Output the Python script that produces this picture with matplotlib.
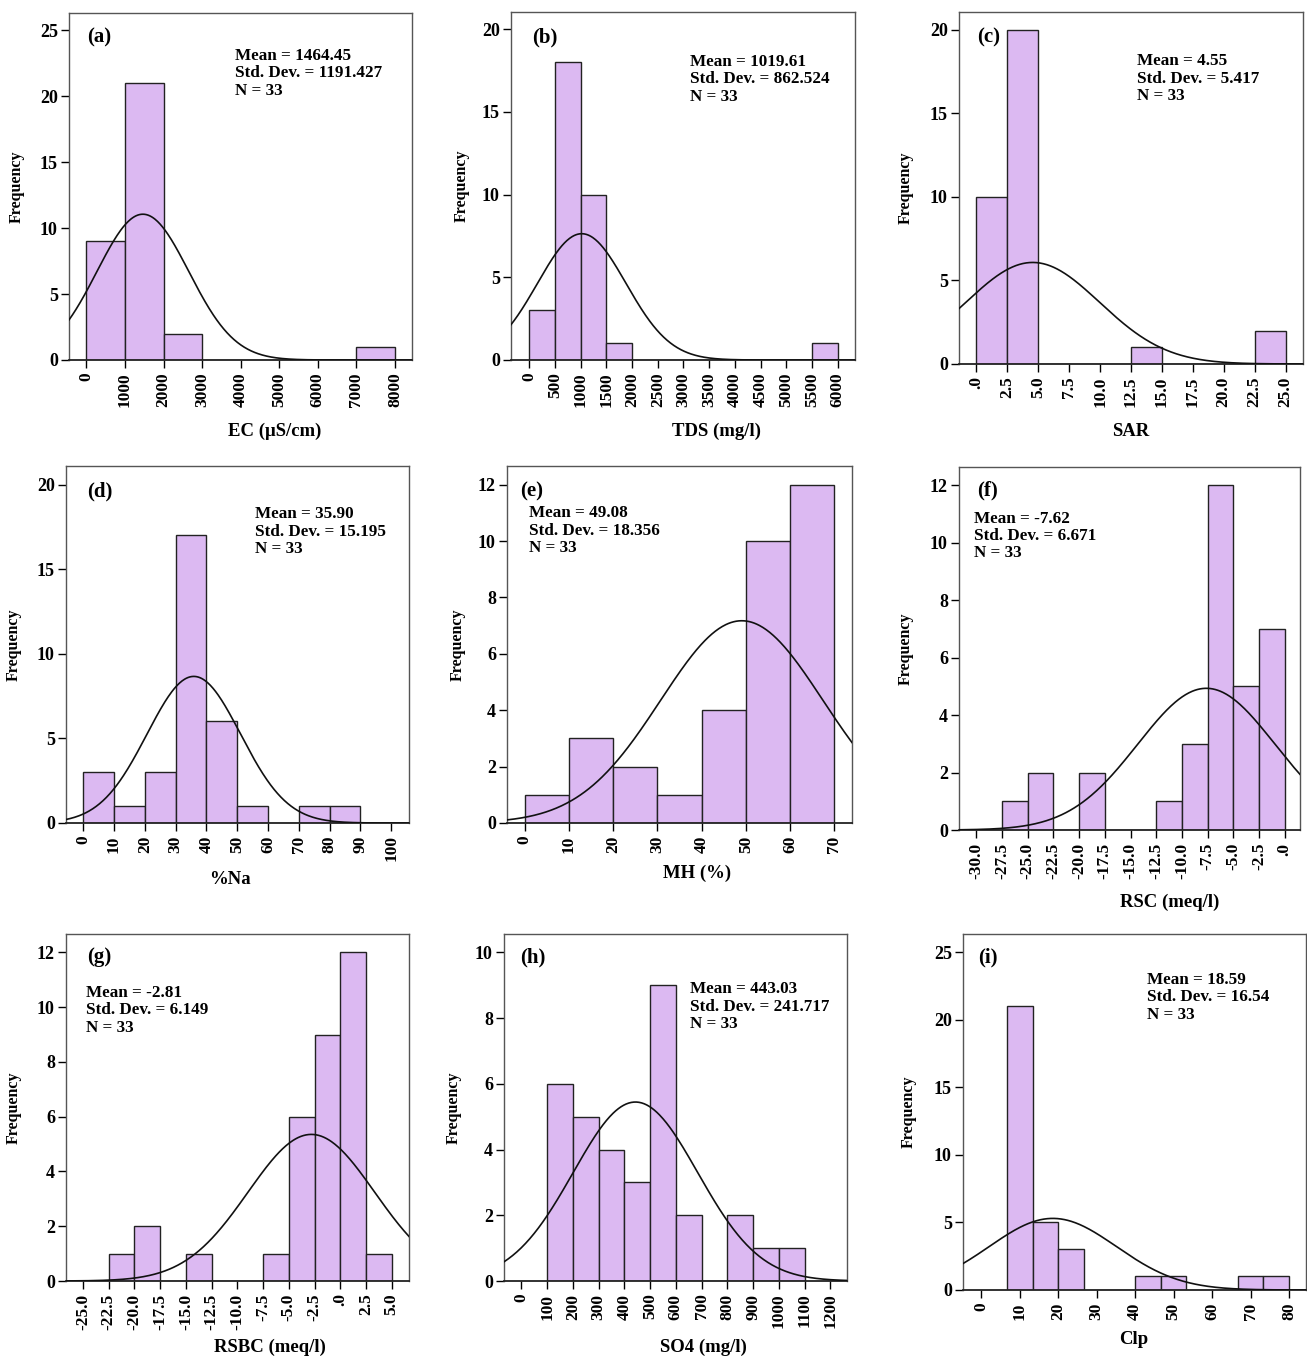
import numpy as np
import matplotlib.pyplot as plt

plt.rcParams['font.family'] = ['Liberation Serif', 'DejaVu Serif']
plt.rcParams['font.weight'] = 'bold'

# --- data (bin edges, counts, summary stats) ---
ec_edges = [0, 1000, 2000, 3000, 4000, 5000, 6000, 7000, 8000]
ec_counts = [9, 21, 2, 0, 0, 0, 0, 1]
ec_ticks = [0, 1000, 2000, 3000, 4000, 5000, 6000, 7000, 8000]

tds_edges = [0, 500, 1000, 1500, 2000, 2500, 3000, 3500, 4000, 4500, 5000, 5500, 6000]
tds_counts = [3, 18, 10, 1, 0, 0, 0, 0, 0, 0, 0, 1]
tds_ticks = [0, 500, 1000, 1500, 2000, 2500, 3000, 3500, 4000, 4500, 5000, 5500, 6000]

sar_edges = [0, 2.5, 5, 7.5, 10, 12.5, 15, 17.5, 20, 22.5, 25]
sar_counts = [10, 20, 0, 0, 0, 1, 0, 0, 0, 2]
sar_ticks = [0, 2.5, 5, 7.5, 10, 12.5, 15, 17.5, 20, 22.5, 25]
sar_ticklabels = ['.0', '2.5', '5.0', '7.5', '10.0', '12.5', '15.0', '17.5', '20.0', '22.5', '25.0']

na_edges = [0, 10, 20, 30, 40, 50, 60, 70, 80, 90]
na_counts = [3, 1, 3, 17, 6, 1, 0, 1, 1]
na_ticks = [0, 10, 20, 30, 40, 50, 60, 70, 80, 90, 100]

mh_edges = [0, 10, 20, 30, 40, 50, 60, 70]
mh_counts = [1, 3, 2, 1, 4, 10, 12]
mh_ticks = [0, 10, 20, 30, 40, 50, 60, 70]

rsc_edges = [-27.5, -25, -22.5, -20, -17.5, -15, -12.5, -10, -7.5, -5, -2.5, 0]
rsc_counts = [1, 2, 0, 2, 0, 0, 1, 3, 12, 5, 7]
rsc_ticks = [-30, -27.5, -25, -22.5, -20, -17.5, -15, -12.5, -10, -7.5, -5, -2.5, 0]
rsc_ticklabels = ['-30.0', '-27.5', '-25.0', '-22.5', '-20.0', '-17.5', '-15.0',
                  '-12.5', '-10.0', '-7.5', '-5.0', '-2.5', '.0']

rsbc_edges = [-22.5, -20, -17.5, -15, -12.5, -10, -7.5, -5, -2.5, 0, 2.5, 5]
rsbc_counts = [1, 2, 0, 1, 0, 0, 1, 6, 9, 12, 1]
rsbc_ticks = [-25, -22.5, -20, -17.5, -15, -12.5, -10, -7.5, -5, -2.5, 0, 2.5, 5]
rsbc_ticklabels = ['-25.0', '-22.5', '-20.0', '-17.5', '-15.0', '-12.5', '-10.0',
                   '-7.5', '-5.0', '-2.5', '.0', '2.5', '5.0']

so4_edges = [100, 200, 300, 400, 500, 600, 700, 800, 900, 1000, 1100]
so4_counts = [6, 5, 4, 3, 9, 2, 0, 2, 1, 1]
so4_ticks = [0, 100, 200, 300, 400, 500, 600, 700, 800, 900, 1000, 1100, 1200]

clp_edges = [6.67, 13.33, 20, 26.67, 33.33, 40, 46.67, 53.33, 60, 66.67, 73.33, 80]
clp_counts = [21, 5, 3, 0, 0, 1, 1, 0, 0, 1, 1]
clp_ticks = [0, 10, 20, 30, 40, 50, 60, 70, 80]

means = [1464.45, 1019.61, 4.55, 35.90, 49.08, -7.62, -2.81, 443.03, 18.59]
sds = [1191.427, 862.524, 5.417, 15.195, 18.356, 6.671, 6.149, 241.717, 16.54]
n_obs = 33

tags = ['(a)', '(b)', '(c)', '(d)', '(e)', '(f)', '(g)', '(h)', '(i)']
xlabels = ['EC (μS/cm)', 'TDS (mg/l)', 'SAR', '%Na', 'MH (%)', 'RSC (meq/l)',
           'RSBC (meq/l)', 'SO4 (mg/l)', 'Clp']

W, H = 1307, 1358
fig = plt.figure(figsize=(W / 100, H / 100), dpi=100)

# panel layout in pixels: box (l, t, r, b), xlim, ylim top, yticks, tag pos, stats pos, xlabel (x, y), ylabel x
panels = [
    dict(box=(69, 13, 412, 360), edges=ec_edges, counts=ec_counts, ticks=ec_ticks, tl=None,
         xlim=(-450, 8440), ytop=26.3, ystep=5, tag=(0.052, 0.928), st=(0.484, 0.90), xl=(275, 432), yl=18),
    dict(box=(511, 12, 855, 360), edges=tds_edges, counts=tds_counts, ticks=tds_ticks, tl=None,
         xlim=(-357, 6339), ytop=21.03, ystep=5, tag=(0.06, 0.928), st=(0.52, 0.88), xl=(716, 432), yl=463),
    dict(box=(959, 12, 1303, 364), edges=sar_edges, counts=sar_counts, ticks=sar_ticks, tl=sar_ticklabels,
         xlim=(-1.41, 26.41), ytop=21.06, ystep=5, tag=(0.052, 0.927), st=(0.517, 0.883), xl=(1131, 432), yl=907),
    dict(box=(66, 466, 409, 823), edges=na_edges, counts=na_counts, ticks=na_ticks, tl=None,
         xlim=(-5.6, 105.8), ytop=21.1, ystep=5, tag=(0.062, 0.93), st=(0.55, 0.887), xl=(230, 880), yl=15),
    dict(box=(507, 466, 852, 823), edges=mh_edges, counts=mh_counts, ticks=mh_ticks, tl=None,
         xlim=(-4.0, 74.0), ytop=12.66, ystep=2, tag=(0.037, 0.93), st=(0.064, 0.89), xl=(697, 874), yl=459),
    dict(box=(959, 467, 1300, 830), edges=rsc_edges, counts=rsc_counts, ticks=rsc_ticks, tl=rsc_ticklabels,
         xlim=(-31.7, 1.5), ytop=12.64, ystep=2, tag=(0.053, 0.934), st=(0.043, 0.88), xl=(1170, 903), yl=907),
    dict(box=(66, 934, 409, 1281), edges=rsbc_edges, counts=rsbc_counts, ticks=rsbc_ticks, tl=rsbc_ticklabels,
         xlim=(-26.65, 6.68), ytop=12.67, ystep=2, tag=(0.063, 0.933), st=(0.059, 0.853), xl=(270, 1348), yl=15),
    dict(box=(504, 934, 847, 1281), edges=so4_edges, counts=so4_counts, ticks=so4_ticks, tl=None,
         xlim=(-67.7, 1265), ytop=10.56, ystep=2, tag=(0.046, 0.933), st=(0.542, 0.864), xl=(703, 1348), yl=455),
    dict(box=(963, 934, 1306, 1290), edges=clp_edges, counts=clp_counts, ticks=clp_ticks, tl=None,
         xlim=(-4.75, 84.4), ytop=26.36, ystep=5, tag=(0.043, 0.935), st=(0.536, 0.894), xl=(1134, 1340), yl=910),
]

bar_color = '#dcb9f2'

for i, p in enumerate(panels):
    l, t, r, b = p['box']
    ax = fig.add_axes([l / W, 1 - b / H, (r - l) / W, (b - t) / H])
    edges = np.array(p['edges'], dtype=float)
    widths = np.diff(edges)
    ax.bar(edges[:-1], p['counts'], width=widths, align='edge',
           color=bar_color, edgecolor='#222222', linewidth=1.0, zorder=2)

    # fitted normal curve (scaled to frequency)
    mu, sd = means[i], sds[i]
    bw = widths[0]
    xs = np.linspace(p['xlim'][0], p['xlim'][1], 400)
    ys = n_obs * bw / (sd * np.sqrt(2 * np.pi)) * np.exp(-0.5 * ((xs - mu) / sd) ** 2)
    ax.plot(xs, ys, color='#111111', linewidth=1.2, zorder=3)

    ax.set_xlim(*p['xlim'])
    ax.set_ylim(0, p['ytop'])
    ax.set_yticks(np.arange(0, p['ytop'], p['ystep']))
    ax.set_xticks(p['ticks'])
    if p['tl'] is not None:
        ax.set_xticklabels(p['tl'])
    ax.tick_params(axis='x', rotation=90, labelsize=12.5, length=6, width=1, direction='out', pad=3)
    ax.tick_params(axis='y', labelsize=13, length=6, width=1, direction='out', pad=2)
    for lab in ax.get_xticklabels() + ax.get_yticklabels():
        lab.set_fontweight('bold')
    for s in ['top', 'right', 'left']:
        ax.spines[s].set_color('#555555')
        ax.spines[s].set_linewidth(1.0)
    ax.spines['bottom'].set_color('#222222')
    ax.spines['bottom'].set_linewidth(1.3)

    ax.text(p['tag'][0], p['tag'][1], tags[i], transform=ax.transAxes,
            fontsize=15, fontweight='bold', ha='left', va='center')
    ax.text(p['st'][0], p['st'][1],
            f"Mean = {mu:.2f}\nStd. Dev. = {sd}\nN = {n_obs}",
            transform=ax.transAxes, fontsize=12.3, fontweight='bold',
            ha='left', va='top', linespacing=1.12)

    ax.set_xlabel(xlabels[i], fontsize=13.5, fontweight='bold')
    xlx, xly = p['xl']
    ax.xaxis.set_label_coords((xlx - l) / (r - l), (b - (xly - 9)) / (b - t))
    ax.set_ylabel('Frequency', fontsize=11.5, fontweight='bold')
    ax.yaxis.set_label_coords((p['yl'] + 7 - l) / (r - l), 0.5)

fig.savefig('out.png', dpi=100)
